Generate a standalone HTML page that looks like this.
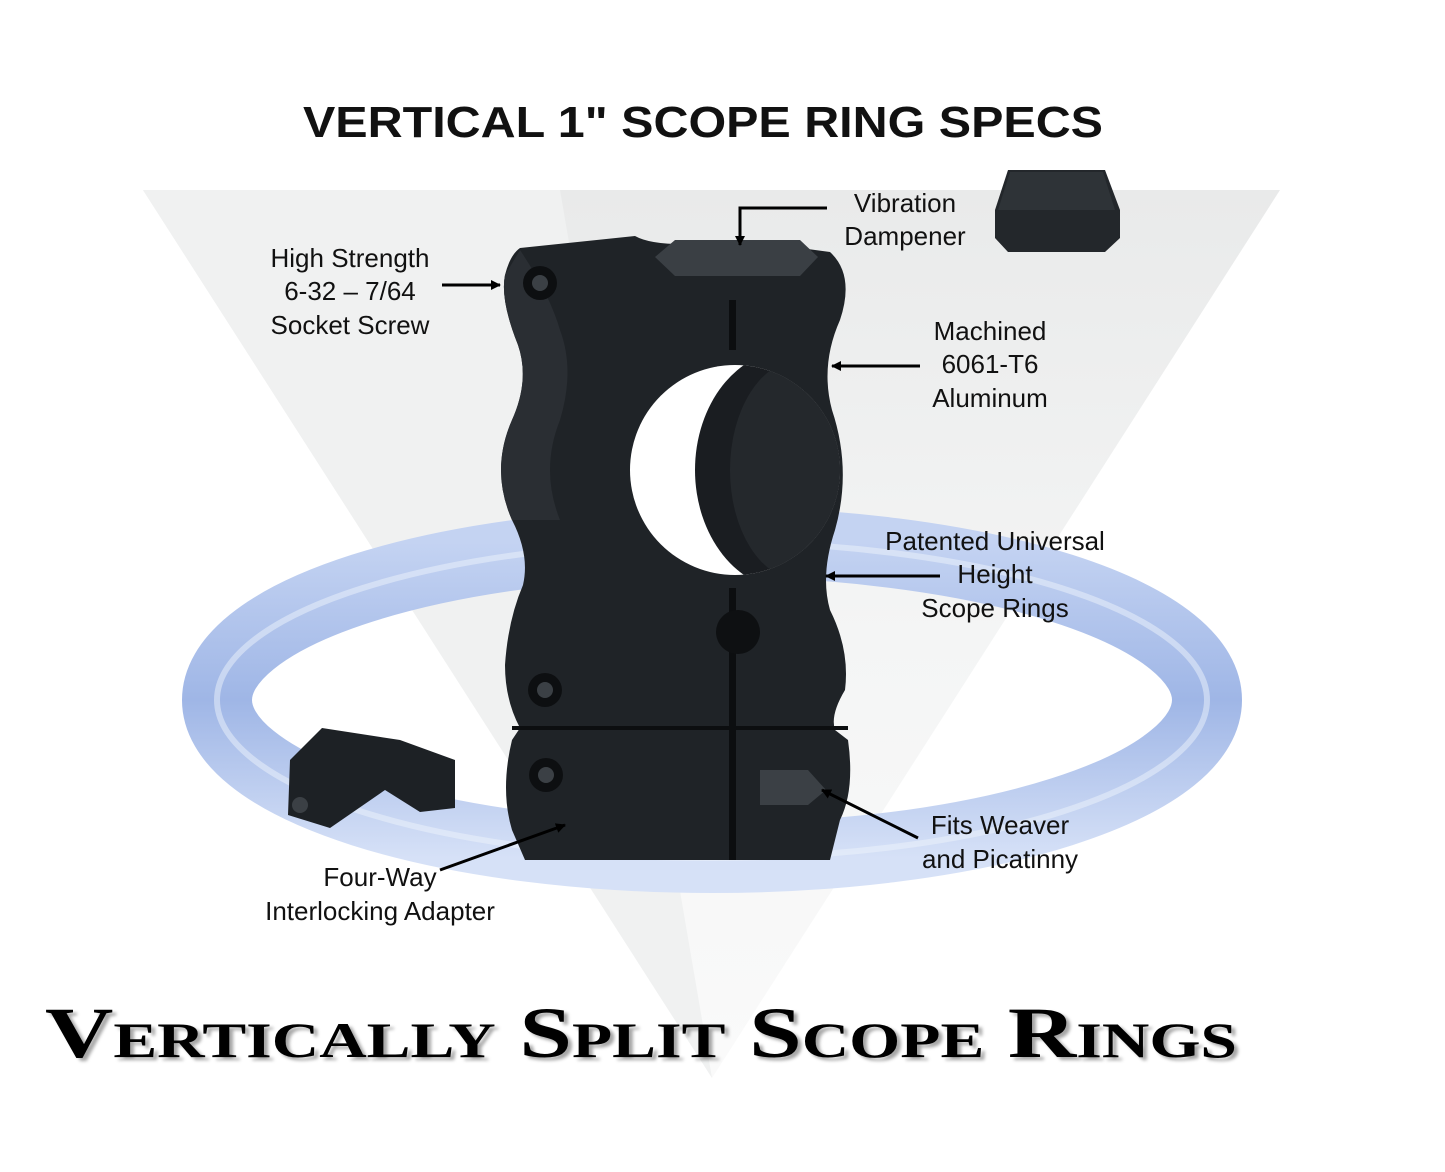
<!DOCTYPE html>
<html><head><style>
html,body{margin:0;padding:0;background:#fff;}
svg{display:block;}
</style></head><body>
<svg width="1445" height="1172" viewBox="0 0 1445 1172" xmlns="http://www.w3.org/2000/svg">
<defs>
<linearGradient id="tri" x1="0" y1="0" x2="0" y2="1">
<stop offset="0" stop-color="#e9eaea"/><stop offset="0.5" stop-color="#f4f5f5"/><stop offset="1" stop-color="#fafafa"/>
</linearGradient>
<linearGradient id="ring" x1="0" y1="0" x2="0" y2="1">
<stop offset="0" stop-color="#c4d3f2"/><stop offset="0.5" stop-color="#9fb6e6"/><stop offset="1" stop-color="#d6e1f7"/>
</linearGradient>
<clipPath id="hole"><circle cx="735" cy="470" r="105"/></clipPath>
<marker id="ah" markerWidth="10" markerHeight="10" refX="9" refY="5" orient="auto" markerUnits="userSpaceOnUse">
<path d="M0,0 L10,5 L0,10 z" fill="#000"/>
</marker>
</defs>
<rect width="1445" height="1172" fill="#fff"/>
<polygon points="143,190 1280,190 712,1078" fill="url(#tri)"/>
<polygon points="143,190 560,190 712,1078" fill="#f0f1f1"/>
<ellipse cx="712" cy="700" rx="495" ry="158" fill="none" stroke="url(#ring)" stroke-width="70"/>
<ellipse cx="712" cy="700" rx="495" ry="158" fill="none" stroke="#eef3fc" stroke-width="6" opacity="0.5"/>
<text x="703" y="137" text-anchor="middle" font-family="Liberation Sans, sans-serif" font-weight="bold" font-size="44" textLength="800" lengthAdjust="spacingAndGlyphs" fill="#111">VERTICAL 1" SCOPE RING SPECS</text>
<!-- main ring body -->
<path d="M520,248 L635,236 Q660,250 740,240 L830,252 Q855,275 840,320 Q820,365 832,410 Q852,470 835,530 Q820,575 830,610 Q850,650 845,690 Q830,715 835,730 L848,740 Q855,790 840,820 L830,860 L525,860 L512,830 Q500,790 512,740 L520,728 Q505,700 505,665 Q508,620 523,585 Q530,555 512,520 Q490,470 512,420 Q530,380 518,345 Q500,300 505,275 Q510,255 520,248 Z" fill="#1f2327"/>
<path d="M505,275 Q500,300 518,345 Q530,380 512,420 Q490,470 512,520 L560,520 Q540,470 560,420 Q575,370 560,330 Q550,295 520,250 Z" fill="#2a2e33"/>
<circle cx="735" cy="470" r="105" fill="#fff"/>
<g clip-path="url(#hole)">
<ellipse cx="790" cy="470" rx="95" ry="120" fill="#1a1d21"/>
<ellipse cx="800" cy="470" rx="70" ry="110" fill="#24282c"/>
</g>
<polygon points="655,257 675,240 800,240 818,257 800,276 675,276" fill="#3a3f44"/>
<rect x="729" y="300" width="7" height="50" fill="#0c0e10"/>
<rect x="729" y="588" width="7" height="272" fill="#0c0e10"/>
<circle cx="738" cy="632" r="22" fill="#0e1012"/>
<path d="M512,728 L848,728" stroke="#0c0e10" stroke-width="4"/>
<circle cx="540" cy="283" r="17" fill="#0d0f11"/><circle cx="540" cy="283" r="8" fill="#3b4045"/>
<circle cx="545" cy="690" r="17" fill="#0d0f11"/><circle cx="545" cy="690" r="8" fill="#3b4045"/>
<circle cx="546" cy="775" r="17" fill="#0d0f11"/><circle cx="546" cy="775" r="8" fill="#3b4045"/>
<polygon points="760,770 808,770 826,790 808,805 760,805" fill="#3b4045"/>
<!-- dampener -->
<path d="M1008,170 L1105,170 L1120,210 L1120,238 L1105,252 L1008,252 L995,238 L995,210 Z" fill="#23272b"/>
<path d="M1010,172 L1103,172 L1115,210 L998,210 Z" fill="#2e3337"/>
<!-- small adapter -->
<path d="M290,760 L322,728 L400,740 L455,760 L455,808 L420,812 L385,790 L330,828 L288,815 Z" fill="#1d2125"/>
<circle cx="300" cy="805" r="8" fill="#3b4045"/>
<g font-family="Liberation Sans, DejaVu Sans, sans-serif" font-size="26" fill="#111" text-anchor="middle">
<text x="905" y="212">Vibration</text><text x="905" y="245">Dampener</text>
<text x="350" y="267">High Strength</text><text x="350" y="300">6-32 – 7/64</text><text x="350" y="334">Socket Screw</text>
<text x="990" y="340">Machined</text><text x="990" y="373">6061-T6</text><text x="990" y="407">Aluminum</text>
<text x="995" y="550">Patented Universal</text><text x="995" y="583">Height</text><text x="995" y="617">Scope Rings</text>
<text x="1000" y="834">Fits Weaver</text><text x="1000" y="868">and Picatinny</text>
<text x="380" y="886">Four-Way</text><text x="380" y="920">Interlocking Adapter</text>
</g>
<g stroke="#000" stroke-width="3" fill="none">
<polyline points="827,208 740,208 740,245" marker-end="url(#ah)"/>
<line x1="442" y1="285" x2="500" y2="285" marker-end="url(#ah)"/>
<line x1="920" y1="366" x2="832" y2="366" marker-end="url(#ah)"/>
<line x1="940" y1="576" x2="826" y2="576" marker-end="url(#ah)"/>
<line x1="918" y1="838" x2="822" y2="790" marker-end="url(#ah)"/>
<line x1="440" y1="870" x2="565" y2="825" marker-end="url(#ah)"/>
</g>
<text x="45" y="1057" font-family="Liberation Serif, serif" font-weight="bold" font-size="72" font-variant="small-caps" textLength="1192" lengthAdjust="spacingAndGlyphs" fill="#000" style="text-shadow:3px 3px 3px rgba(0,0,0,0.35)">Vertically Split Scope Rings</text>
</svg>
</body></html>
